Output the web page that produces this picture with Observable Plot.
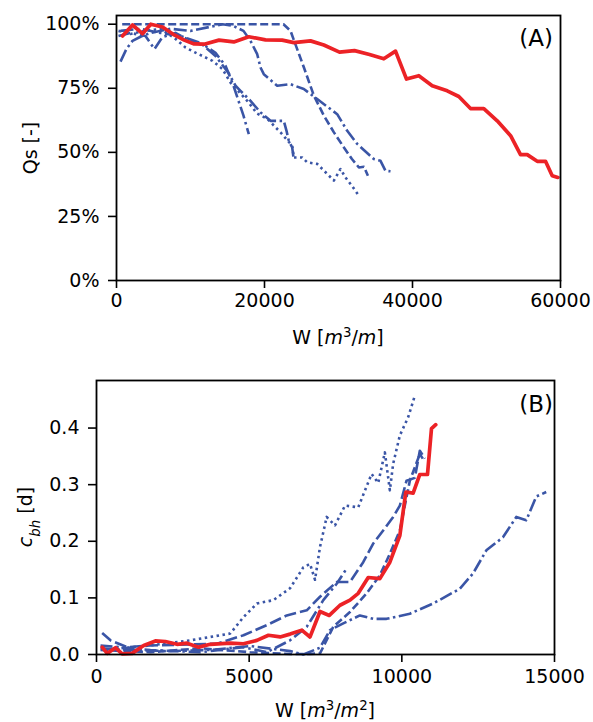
<!DOCTYPE html>
<html>
<head>
<meta charset="utf-8">
<script src="https://cdn.jsdelivr.net/npm/d3@7"></script>
<script src="https://cdn.jsdelivr.net/npm/@observablehq/plot@0.6"></script>
<style>
  html, body { margin: 0; padding: 0; background: white; }
  #chart svg { display: block; }
</style>
</head>
<body>
<div id="chart"></div>
<script>
// ---------- Panel A data: W [m3/m] vs Qs [-] ----------
const xTicksA = [0, 20000, 40000, 60000];
const yTicksA = [0, 0.25, 0.5, 0.75, 1];
const qsRed = [[811,0.954],[2162,0.997],[3514,0.963],[4635,1.0],[6216,0.989],[7810,0.958],[9149,0.938],[10500,0.923],[11852,0.922],[13851,0.938],[15852,0.931],[17879,0.951],[20135,0.939],[22392,0.938],[23960,0.928],[26217,0.935],[28015,0.919],[30136,0.891],[32163,0.897],[34190,0.882],[36123,0.865],[37704,0.895],[39191,0.786],[40853,0.799],[42663,0.760],[44690,0.740],[46258,0.718],[47840,0.671],[49636,0.671],[51447,0.623],[53257,0.565],[54596,0.491],[55501,0.491],[56852,0.465],[57975,0.465],[58880,0.409],[59637,0.402]];
const qsDashed = [[770,1.0],[22568,1.0],[23514,0.974],[25326,0.831],[26677,0.721],[28030,0.643],[29382,0.578],[30733,0.519],[31814,0.474],[32760,0.441],[33436,0.444],[33975,0.409]];
const qsDashDot = [[541,0.854],[1351,0.904],[2162,0.935],[3243,0.951],[4595,0.966],[7298,0.982],[10000,0.974],[12703,0.990],[14325,1.0],[15811,0.993],[17163,0.974],[18109,0.935],[19014,0.883],[19460,0.831],[19906,0.805],[21717,0.760],[23514,0.766],[25312,0.747],[27122,0.708],[29825,0.649],[31177,0.584],[32528,0.533],[34771,0.474],[35676,0.467],[36352,0.428],[37028,0.426]];
const qsDotted = [[270,0.974],[1892,0.962],[3919,0.974],[5946,0.982],[7973,0.943],[9325,0.909],[10676,0.889],[12973,0.857],[14325,0.825],[15406,0.772],[17663,0.701],[19014,0.651],[20365,0.631],[22163,0.578],[23744,0.526],[23960,0.480],[25096,0.480],[25771,0.461],[27122,0.455],[28474,0.416],[29374,0.390],[30271,0.435],[30947,0.402],[31893,0.366],[32744,0.331]];
const qsDashDot2 = [[270,0.954],[1892,0.966],[3919,0.954],[5135,0.903],[6216,0.950],[7973,0.966],[10000,0.935],[12027,0.915],[13379,0.888],[14730,0.838],[15811,0.760],[16487,0.701],[17163,0.643],[17879,0.571]];
const qsDashDot3 = [[541,0.974],[3243,0.982],[5946,0.966],[8649,0.954],[11352,0.927],[13379,0.876],[15136,0.810],[16082,0.760],[16757,0.740],[18109,0.701],[19460,0.656],[20811,0.623],[22609,0.623],[22974,0.584],[23285,0.545],[23744,0.519],[23920,0.479]];

// ---------- Panel B data: W [m3/m2] vs c_bh [d] ----------
const xTicksB = [0, 5000, 10000, 15000];
const yTicksB = [0, 0.1, 0.2, 0.3, 0.4];
const cRed = [[186,0.013],[350,0.002],[621,0.012],[840,0.001],[1167,0.002],[1546,0.016],[1928,0.024],[2255,0.023],[2637,0.018],[2964,0.020],[3343,0.013],[3725,0.018],[4379,0.020],[4814,0.019],[5252,0.025],[5631,0.034],[6013,0.031],[6340,0.036],[6722,0.043],[6994,0.031],[7320,0.076],[7624,0.069],[7974,0.087],[8301,0.096],[8572,0.108],[8899,0.136],[9281,0.134],[9608,0.163],[9935,0.210],[10131,0.287],[10370,0.285],[10589,0.318],[10840,0.318],[10971,0.399],[11111,0.406]];
const cDotted = [[229,0.008],[1765,0.016],[3072,0.025],[4379,0.037],[4814,0.066],[5252,0.090],[5794,0.096],[6340,0.117],[6775,0.154],[6994,0.160],[7157,0.132],[7320,0.190],[7539,0.243],[7811,0.228],[8138,0.263],[8572,0.260],[9010,0.319],[9226,0.303],[9444,0.357],[9608,0.290],[9716,0.337],[9935,0.387],[10206,0.419],[10425,0.457]];
const cDashDotLong = [[131,0.011],[1111,0.008],[2418,0.006],[3725,0.008],[5032,0.015],[6340,0.006],[6775,0.0],[7320,0.012],[7647,0.043],[8082,0.055],[8627,0.069],[9062,0.063],[9500,0.063],[10262,0.072],[11023,0.090],[11895,0.116],[12330,0.143],[12768,0.184],[13311,0.207],[13749,0.243],[14075,0.237],[14402,0.279],[14729,0.287]];
const cLongDash = [[186,0.038],[458,0.025],[1003,0.013],[1765,0.016],[3944,0.019],[4814,0.034],[5579,0.052],[6232,0.069],[6886,0.078],[7320,0.102],[7866,0.128],[8301,0.128],[8735,0.163],[9062,0.196],[9389,0.219],[9716,0.243],[9935,0.263],[10154,0.307],[10425,0.312],[10589,0.360],[10752,0.346]];
const cDashDotShort = [[131,0.016],[1765,0.008],[3399,0.004],[4804,0.013],[5579,0.004],[6340,0.025],[6886,0.049],[7428,0.096],[7866,0.125],[8170,0.150]];
const cDashed = [[131,0.008],[1765,0.004],[3399,0.011],[5032,0.004],[6340,0.001],[6994,0.001],[7320,0.002],[7755,0.049],[8301,0.075],[8847,0.108],[9281,0.140],[9608,0.178],[9935,0.219],[10262,0.307],[10589,0.354],[10687,0.346]];

const BLUE = "#3a55a6";
const RED = "#ec2226";
const FONT = "DejaVu Sans";

const styles = {
  dashed:   "8,3.5",
  dashdot:  "13,3.5,2.5,3.5",
  dotted:   "2.5,3.5",
  longdash: "12,4",
  ldashdot: "12,3.8,2.5,3.8"
};

function blue(data, dash) {
  return Plot.line(data, {x: d => d[0], y: d => d[1], stroke: BLUE, strokeWidth: 2.6,
    strokeDasharray: dash, strokeLinecap: "butt", strokeLinejoin: "round"});
}
function red(data) {
  return Plot.line(data, {x: d => d[0], y: d => d[1], stroke: RED, strokeWidth: 3.7,
    strokeLinejoin: "round"});
}

const common = {
  width: 593,
  style: {fontFamily: FONT, fontSize: "19px", color: "black", background: "white", overflow: "visible"}
};

const plotA = Plot.plot({
  ...common,
  height: 360,
  marginTop: 15, marginBottom: 80, marginLeft: 116, marginRight: 33,
  x: {domain: [0, 60000]},
  y: {domain: [0, 1.034]},
  marks: [
    blue(qsDashed, styles.dashed),
    blue(qsDashDot, styles.dashdot),
    blue(qsDotted, styles.dotted),
    blue(qsDashDot2, styles.ldashdot),
    blue(qsDashDot3, styles.dashdot),
    red(qsRed),
    Plot.frame({stroke: "black", strokeWidth: 1.8}),
    Plot.axisX({ticks: xTicksA, tickFormat: d3.format("d"), tickSize: 8, tickPadding: 5, label: null, strokeWidth: 1.6}),
    Plot.axisY({ticks: yTicksA, tickFormat: d3.format(".0%"), tickSize: 8, tickPadding: 9, label: null, strokeWidth: 1.6})
  ]
});

const plotB = Plot.plot({
  ...common,
  height: 362,
  marginTop: 20, marginBottom: 68, marginLeft: 96, marginRight: 39,
  x: {domain: [0, 15000]},
  y: {domain: [0, 0.484]},
  marks: [
    blue(cDotted, styles.dotted),
    blue(cDashDotLong, styles.dashdot),
    blue(cLongDash, styles.longdash),
    blue(cDashDotShort, styles.ldashdot),
    blue(cDashed, styles.dashed),
    red(cRed),
    Plot.frame({stroke: "black", strokeWidth: 1.8}),
    Plot.axisX({ticks: xTicksB, tickFormat: d3.format("d"), tickSize: 8, tickPadding: 7, label: null, strokeWidth: 1.6}),
    Plot.axisY({ticks: yTicksB, tickFormat: d3.format(".1f"), tickSize: 8, tickPadding: 9, label: null, strokeWidth: 1.6})
  ]
});

const root = document.getElementById("chart");
root.appendChild(plotA);
root.appendChild(plotB);

// ---- rich-text axis labels and panel tags ----
function addText(svg, x, y, parts, opts = {}) {
  const t = d3.select(svg).append("text")
    .attr("x", x).attr("y", y)
    .attr("text-anchor", opts.anchor || "middle")
    .attr("font-family", FONT)
    .attr("font-size", opts.size || 19)
    .attr("fill", "black");
  if (opts.rotate) t.attr("transform", `rotate(-90 ${x} ${y})`);
  for (const p of parts) {
    const s = t.append("tspan").text(p.t);
    if (p.i) s.attr("font-style", "italic");
    if (p.sup) s.attr("baseline-shift", "super").attr("font-size", (opts.size || 19) * 0.7);
    if (p.sub) s.attr("baseline-shift", "sub").attr("font-size", (opts.size || 19) * 0.7);
  }
  return t;
}

addText(plotA, 338, 344, [{t: "W ["}, {t: "m", i: true}, {t: "3", sup: true}, {t: "/"}, {t: "m", i: true}, {t: "]"}]);
addText(plotA, 37, 148, [{t: "Qs [-]"}], {rotate: true});
addText(plotA, 553, 46, [{t: "(A)"}], {anchor: "end", size: 23});

addText(plotB, 325, 357, [{t: "W ["}, {t: "m", i: true}, {t: "3", sup: true}, {t: "/"}, {t: "m", i: true}, {t: "2", sup: true}, {t: "]"}]);
addText(plotB, 32, 157, [{t: "c", i: true}, {t: "bh", i: true, sub: true}, {t: " [d]"}], {rotate: true});
addText(plotB, 553, 52, [{t: "(B)"}], {anchor: "end", size: 23});
</script>
</body>
</html>
